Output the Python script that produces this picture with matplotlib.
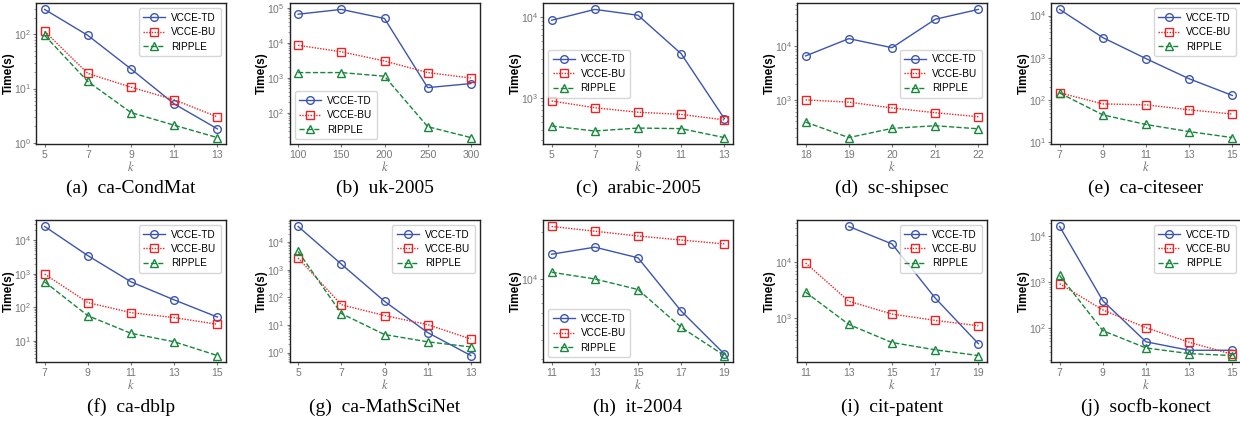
import matplotlib
matplotlib.use("Agg")
import matplotlib.pyplot as plt
from matplotlib.ticker import NullFormatter
import numpy as np

plt.rcParams['font.family'] = ['Liberation Sans', 'DejaVu Sans']
plt.rcParams['mathtext.fontset'] = 'stix'

nan = np.nan

# dataset names, k values and runtimes (seconds) for each algorithm
datasets = ['ca-CondMat', 'uk-2005', 'arabic-2005', 'sc-shipsec', 'ca-citeseer',
            'ca-dblp', 'ca-MathSciNet', 'it-2004', 'cit-patent', 'socfb-konect']
letters = ['a', 'b', 'c', 'd', 'e', 'f', 'g', 'h', 'i', 'j']

k_values = [
    [5, 7, 9, 11, 13],
    [100, 150, 200, 250, 300],
    [5, 7, 9, 11, 13],
    [18, 19, 20, 21, 22],
    [7, 9, 11, 13, 15],
    [7, 9, 11, 13, 15],
    [5, 7, 9, 11, 13],
    [11, 13, 15, 17, 19],
    [11, 13, 15, 17, 19],
    [7, 9, 11, 13, 15],
]

vcce_td = [
    [290, 96, 23, 5.2, 1.8],
    [65000, 89000, 49000, 520, 680],
    [9100, 12400, 10500, 3500, 550],
    [6600, 13900, 9400, 32000, 49000],
    [14000, 3000, 950, 316, 127],
    [26000, 3500, 575, 166, 51],
    [37000, 1600, 72, 5.3, 0.78],
    [14400, 16000, 13650, 6160, 3240],
    [nan, 43000, 21000, 2280, 350],
    [16600, 390, 49, 32, 32],
]

vcce_bu = [
    [114, 19, 10.6, 6.2, 3.0],
    [8400, 5500, 3000, 1400, 980],
    [910, 750, 660, 620, 530],
    [990, 900, 700, 570, 480],
    [147, 80, 76, 58, 46],
    [980, 138, 69, 49, 31],
    [2650, 54, 22, 10.3, 3.1],
    [21800, 20300, 18900, 17800, 16800],
    [9600, 2000, 1180, 910, 730],
    [920, 245, 100, 48, 26],
]

ripple = [
    [96, 13.5, 3.6, 2.1, 1.24],
    [1400, 1400, 1100, 40, 19.5],
    [445, 386, 420, 413, 320],
    [380, 195, 290, 325, 285],
    [145, 44, 26, 17.6, 12.7],
    [575, 56, 16.6, 9.3, 3.6],
    [4600, 26, 4.5, 2.45, 1.6],
    [11000, 9950, 8500, 4830, 3170],
    [2900, 770, 367, 272, 215],
    [1400, 86, 36, 27, 24.5],
]

legend_locs = ['upper right', 'lower left', 'center left', 'center right', 'upper right',
               'upper right', 'upper right', 'lower left', 'upper right', 'upper right']

blue = '#3c55b0'
red = '#ee2222'
green = '#17873b'
gray = '#777777'

fig = plt.figure(figsize=(12.4, 4.23), dpi=100)

W, H = 1240.0, 423.0
lefts = [36, 289.5, 543, 797, 1051]
ax_w = 190
rows = [(3, 144, 188), (220, 362, 407)]

for i in range(10):
    r = i // 5
    c = i % 5
    top, bottom, cap_y = rows[r]
    ax = fig.add_axes([lefts[c] / W, 1 - bottom / H, ax_w / W, (bottom - top) / H])

    k = k_values[i]
    ax.plot(k, vcce_td[i], color=blue, linestyle='-', marker='o', markersize=5.5,
            markerfacecolor='none', markeredgewidth=1, linewidth=1, label='VCCE-TD')
    ax.plot(k, vcce_bu[i], color=red, linestyle=(0, (1, 1)), marker='s', markersize=5.5,
            markerfacecolor='none', markeredgewidth=1, linewidth=1, label='VCCE-BU')
    ax.plot(k, ripple[i], color=green, linestyle='--', marker='^', markersize=5.5,
            markerfacecolor='none', markeredgewidth=1, linewidth=1, label='RIPPLE')

    ax.set_yscale('log')
    ax.yaxis.set_minor_formatter(NullFormatter())
    ax.set_xticks(k)
    ax.tick_params(axis='both', which='major', labelsize=7.5, colors=gray, length=2.5, width=0.8)
    ax.tick_params(axis='y', which='major', labelsize=7.5, pad=1)
    ax.tick_params(axis='y', which='minor', length=1.5, width=0.5, colors=gray)
    ax.tick_params(axis='x', which='major', pad=2)
    for sp in ax.spines.values():
        sp.set_color('#222222')
        sp.set_linewidth(1.0)

    ax.set_ylabel('Time(s)', fontsize=8.5, fontweight='bold')
    ax.yaxis.set_label_coords(-0.113, 0.5)
    ax.set_xlabel('$k$', fontsize=9, color=gray, labelpad=0)

    ax.legend(loc=legend_locs[i], fontsize=7.2, handlelength=2.2, frameon=True,
              edgecolor='#cccccc', fancybox=True, borderpad=0.45, labelspacing=0.45,
              handletextpad=0.6)

    fig.text((lefts[c] + ax_w / 2) / W, 1 - cap_y / H,
             '(%s)  %s' % (letters[i], datasets[i]),
             ha='center', va='center', fontsize=14, family='Liberation Serif')

fig.savefig('out.png', dpi=100)
